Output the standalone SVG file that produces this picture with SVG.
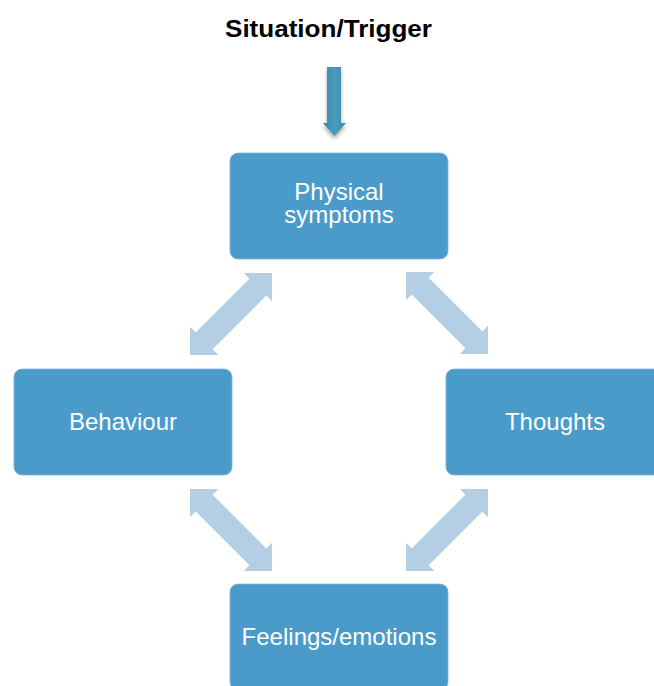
<svg xmlns="http://www.w3.org/2000/svg" width="654" height="686" viewBox="0 0 654 686">
  <style>
    .box { fill: #4A9BCA; stroke: #7FB8DA; stroke-width: 0.8; }
    .lbl { font-family: "Liberation Sans", Arial, sans-serif; font-size: 24px; fill: #FFFFFF; text-anchor: middle; }
    .title { font-family: "Liberation Sans", Arial, sans-serif; font-size: 24px; font-weight: bold; fill: #000000; }
    .dbl { fill: #B4CEE3; }
  </style>
  <defs>
    <path id="darrow" d="M -58 0 L -38 -20 L -38 -12 L 38 -12 L 38 -20 L 58 0 L 38 20 L 38 12 L -38 12 L -38 20 Z"/>
    <linearGradient id="tg" x1="0" y1="0" x2="1" y2="0">
      <stop offset="0" stop-color="#3A86A8"/>
      <stop offset="0.5" stop-color="#4A9CBE"/>
      <stop offset="1" stop-color="#3A86A8"/>
    </linearGradient>
    <filter id="sh" x="-50%" y="-20%" width="200%" height="150%">
      <feGaussianBlur in="SourceAlpha" stdDeviation="2"/>
      <feOffset dx="0" dy="3" result="b"/>
      <feComponentTransfer><feFuncA type="linear" slope="0.35"/></feComponentTransfer>
      <feMerge><feMergeNode/><feMergeNode in="SourceGraphic"/></feMerge>
    </filter>
  </defs>

  <text class="title" x="225" y="37" textLength="207" lengthAdjust="spacingAndGlyphs">Situation/Trigger</text>

  <g id="connectors">
    <path id="trigger-arrow" d="M 327 67 L 341 67 L 341 123 L 346 123 L 334.5 136 L 323 123 L 327 123 Z" fill="url(#tg)" filter="url(#sh)"/>
    <use href="#darrow" class="dbl" transform="translate(231 314) rotate(-45)"/>
    <use href="#darrow" class="dbl" transform="translate(447 313) rotate(45)"/>
    <use href="#darrow" class="dbl" transform="translate(231 530) rotate(45)"/>
    <use href="#darrow" class="dbl" transform="translate(447 530) rotate(-45)"/>
  </g>

  <g id="physical">
    <rect class="box" x="230" y="153" width="218" height="106" rx="8"/>
    <text class="lbl" x="339" y="200">Physical</text>
    <text class="lbl" x="339" y="223">symptoms</text>
  </g>
  <g id="behaviour">
    <rect class="box" x="14" y="369" width="218" height="106" rx="8"/>
    <text class="lbl" x="123" y="430">Behaviour</text>
  </g>
  <g id="thoughts">
    <rect class="box" x="446" y="369" width="218" height="106" rx="8"/>
    <text class="lbl" x="555" y="430">Thoughts</text>
  </g>
  <g id="feelings">
    <rect class="box" x="230" y="584" width="218" height="106" rx="8"/>
    <text class="lbl" x="339" y="645">Feelings/emotions</text>
  </g>
</svg>
